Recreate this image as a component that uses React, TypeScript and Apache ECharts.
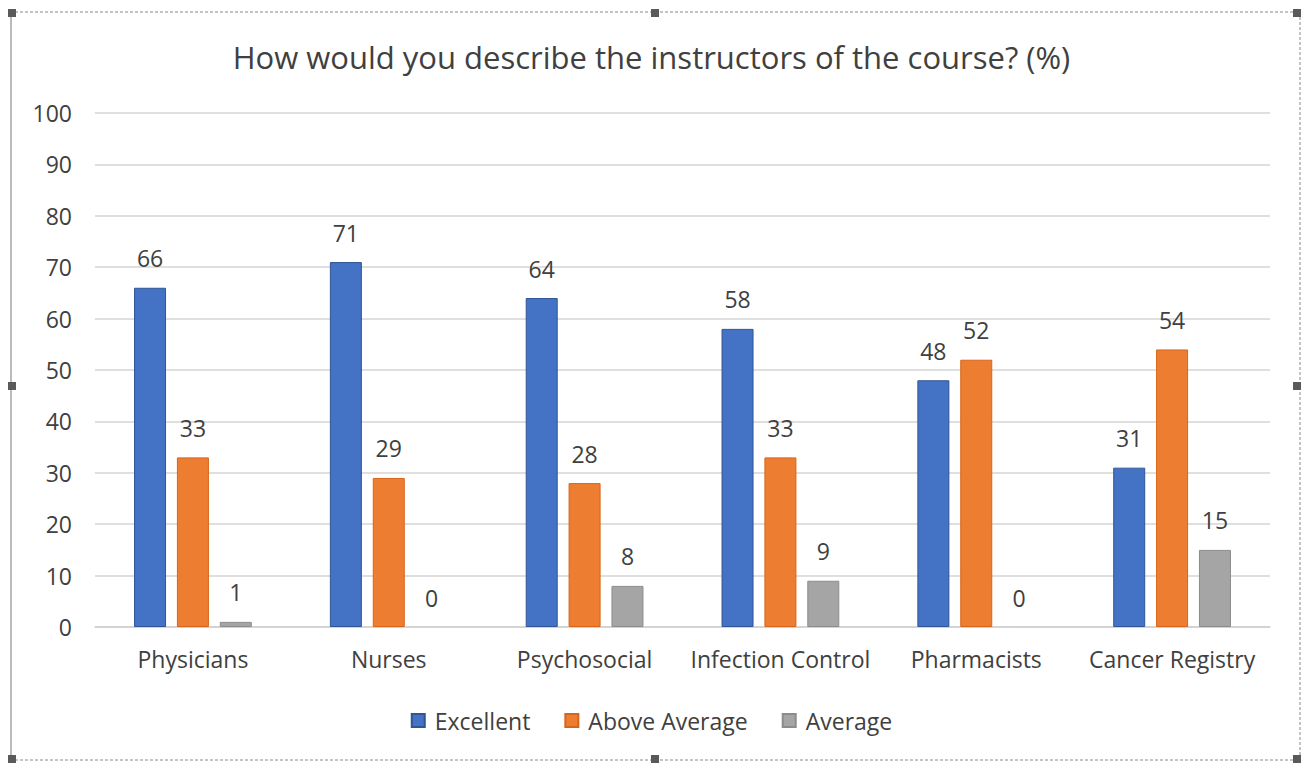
import React, { useEffect, useRef } from "react";
import * as echarts from "echarts";

const categories = ["Physicians", "Nurses", "Psychosocial", "Infection Control", "Pharmacists", "Cancer Registry"];
const excellent = [66, 71, 64, 58, 48, 31];
const aboveAverage = [33, 29, 28, 33, 52, 54];
const average = [1, 0, 8, 9, 0, 15];
const yTicks = { min: 0, max: 100, interval: 10 };
const title = "How would you describe the instructors of the course? (%)";

const FONT = "'Open Sans', 'Noto Sans', sans-serif";
const TXT = "#404040";

export default function App() {
  const ref = useRef<HTMLDivElement>(null);
  useEffect(() => {
    document.body.style.margin = "0";
    const chart = echarts.init(ref.current!, null, { renderer: "svg" });
    const label = {
      show: true,
      position: "top",
      distance: 18,
      color: TXT,
      fontSize: 23,
      fontFamily: FONT,
    };
    const mk = (name: string, data: number[], color: string, border: string) => ({
      name,
      type: "bar",
      data: data.map((v) => (v === 0 ? { value: v, itemStyle: { borderWidth: 0 } } : v)),
      barWidth: 32,
      barGap: "34%",
      itemStyle: { color, borderColor: border, borderWidth: 1 },
      label,
    });
    const handle = (x: number, y: number) => ({
      type: "rect",
      shape: { x: x - 4, y: y - 4, width: 8, height: 8 },
      style: { fill: "#5a5a5a" },
      z: 100,
    });
    chart.setOption({
      animation: false,
      backgroundColor: "#ffffff",
      title: {
        text: title,
        left: "center",
        top: 36,
        textStyle: { color: TXT, fontSize: 31, fontWeight: "normal", fontFamily: FONT },
      },
      legend: {
        bottom: 27,
        left: "center",
        itemWidth: 13,
        itemHeight: 13,
        itemGap: 34,
        icon: "rect",
        textStyle: { color: TXT, fontSize: 23, fontFamily: FONT, padding: [0, 0, 0, 5] },
      },
      grid: { left: 95, right: 33, top: 113, bottom: 137, containLabel: false },
      xAxis: {
        type: "category",
        data: categories,
        axisLine: { lineStyle: { color: "#d0d0d0", width: 1.5 } },
        axisTick: { show: false },
        axisLabel: { color: TXT, fontSize: 23, fontFamily: FONT, margin: 20, interval: 0 },
      },
      yAxis: {
        type: "value",
        min: yTicks.min,
        max: yTicks.max,
        interval: yTicks.interval,
        axisLine: { show: false },
        axisTick: { show: false },
        axisLabel: { color: TXT, fontSize: 23, fontFamily: FONT, margin: 23 },
        splitLine: { lineStyle: { color: "#d4d4d4", width: 1.5 } },
      },
      series: [
        mk("Excellent", excellent, "#4472C4", "#2F5597"),
        mk("Above Average", aboveAverage, "#ED7D31", "#D8641A"),
        mk("Average", average, "#A5A5A5", "#8C8C8C"),
      ],
      graphic: [
        { type: "line", shape: { x1: 10, y1: 12, x2: 1298, y2: 12 }, style: { stroke: "#888", lineWidth: 1, lineDash: [3, 2] } },
        { type: "line", shape: { x1: 10, y1: 760, x2: 1298, y2: 760 }, style: { stroke: "#888", lineWidth: 1, lineDash: [3, 2] } },
        { type: "line", shape: { x1: 1300, y1: 12, x2: 1300, y2: 760 }, style: { stroke: "#888", lineWidth: 1, lineDash: [3, 2] } },
        { type: "line", shape: { x1: 11, y1: 12, x2: 11, y2: 760 }, style: { stroke: "#bbb", lineWidth: 2 } },
        handle(12, 13),
        handle(655, 13),
        handle(1297, 13),
        handle(12, 386),
        handle(1297, 386),
        handle(12, 759),
        handle(655, 759),
        handle(1297, 759),
      ],
    });
    return () => chart.dispose();
  }, []);
  return <div ref={ref} style={{ width: 1303, height: 764 }} />;
}
